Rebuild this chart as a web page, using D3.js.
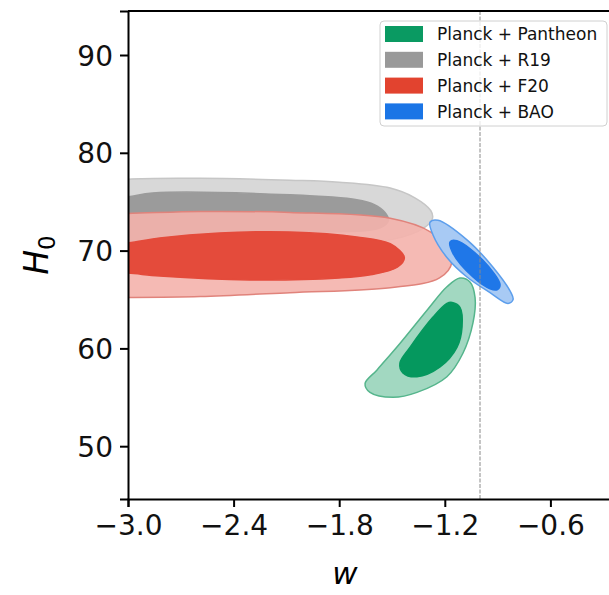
<!DOCTYPE html>
<html lang="en">

<head>
  <meta charset="UTF-8">
  <title>w - H0 contours</title>
  <script src="https://d3js.org/d3.v7.min.js"></script>
  <style>
    body { margin: 0; background: #fff; }
    text { font-family: "DejaVu Sans", sans-serif; }
  </style>
</head>

<body>
  <div id="container"></div>

  <script>
    // axis ticks
    var wTicks = [-3.0, -2.4, -1.8, -1.2, -0.6];
    var hTicks = [50, 60, 70, 80, 90];
    var legendLabels = ["Planck + Pantheon", "Planck + R19", "Planck + F20", "Planck + BAO"];

    // contour boundaries, [w, H0]
    var r19Outer = [[-3.16, 76.9], [-3.0, 77.3], [-2.59, 77.4], [-2.08, 77.2], [-1.80, 77.0], [-1.51, 76.4],
      [-1.37, 75.4], [-1.28, 74.1], [-1.27, 73.3], [-1.32, 72.3], [-1.51, 71.1], [-1.89, 70.7], [-2.59, 70.5], [-3.16, 70.5]];
    var r19Inner = [[-3.16, 75.3], [-3.0, 75.5], [-2.86, 75.9], [-2.08, 75.7], [-1.70, 75.2], [-1.60, 74.7],
      [-1.54, 73.9], [-1.52, 73.1], [-1.57, 72.3], [-2.02, 71.9], [-3.16, 71.9]];
    var f20Outer = [[-3.16, 73.8], [-3.0, 73.8], [-2.59, 74.0], [-2.08, 73.9], [-1.51, 73.3], [-1.28, 71.9],
      [-1.19, 70.3], [-1.16, 68.8], [-1.23, 67.2], [-1.51, 66.2], [-2.08, 65.7], [-2.59, 65.3], [-3.0, 65.2], [-3.16, 65.2]];
    var f20Inner = [[-3.16, 70.7], [-3.0, 70.8], [-2.82, 71.3], [-2.48, 71.8], [-2.08, 71.9], [-1.70, 71.4],
      [-1.51, 70.7], [-1.43, 69.3], [-1.47, 68.3], [-1.63, 67.5], [-1.80, 67.2], [-2.31, 67.0], [-2.82, 67.4],
      [-3.0, 67.7], [-3.16, 67.8]];
    var baoOuter = [[-1.284, 72.9], [-1.239, 73.1], [-1.074, 71.1], [-0.926, 68.3], [-0.824, 65.7], [-0.812, 65.0],
      [-0.841, 64.6], [-0.943, 65.7], [-1.074, 67.3], [-1.188, 69.3], [-1.267, 71.6]];
    var baoInner = [[-1.170, 70.9], [-1.131, 71.0], [-0.983, 69.0], [-0.886, 66.5], [-0.903, 66.0], [-0.943, 66.1],
      [-1.040, 67.3], [-1.153, 69.7]];
    var panOuter = [[-1.114, 67.2], [-1.057, 66.8], [-1.028, 65.2], [-1.040, 62.6], [-1.097, 59.5], [-1.188, 57.1],
      [-1.358, 55.5], [-1.494, 55.0], [-1.625, 55.5], [-1.653, 56.4], [-1.585, 57.8], [-1.455, 60.5], [-1.301, 63.9],
      [-1.188, 66.3]];
    var panInner = [[-1.159, 64.7], [-1.114, 64.2], [-1.102, 62.2], [-1.131, 60.1], [-1.227, 58.1], [-1.358, 57.1],
      [-1.438, 57.5], [-1.455, 58.5], [-1.398, 60.1], [-1.267, 63.2], [-1.188, 64.6]];

    var width = 609,
      height = 595,
      margin = { "left": 128, "top": 11, "right": -3, "bottom": 96 },
      plot_w = width - margin.left - margin.right,
      plot_h = height - margin.top - margin.bottom;

    var svg = d3.select("#container")
      .append("svg")
      .attr("width", width)
      .attr("height", height)

    var x = d3.scaleLinear().domain([-3.0, -0.25]).range([0, plot_w]);
    var y = d3.scaleLinear().domain([44.6, 94.5]).range([plot_h, 0]);

    var g = svg.append("g")
      .attr("transform", "translate(" + margin.left + "," + margin.top + ")")

    svg.append("clipPath").attr("id", "clip")
      .append("rect").attr("width", plot_w).attr("height", plot_h)

    var area = g.append("g").attr("clip-path", "url(#clip)")

    var line = d3.line()
      .x(function (d) { return x(d[0]); })
      .y(function (d) { return y(d[1]); })
      .curve(d3.curveCatmullRomClosed.alpha(0.5))

    // drawing order: R19, F20, BAO, Pantheon
    var layers = [
      { pts: r19Outer, fill: "#d8d8d8", stroke: "#c6c6c6", op: 1 },
      { pts: r19Inner, fill: "#9b9b9b", stroke: "#9b9b9b", op: 1 },
      { pts: f20Outer, fill: "#f4b2ac", stroke: "#e0837b", op: 0.9 },
      { pts: f20Inner, fill: "#e44b3b", stroke: "#e44b3b", op: 1 },
      { pts: baoOuter, fill: "#a8caf4", stroke: "#5c9eec", op: 1 },
      { pts: baoInner, fill: "#1f77e8", stroke: "#1f77e8", op: 1 },
      { pts: panOuter, fill: "#a2d8c1", stroke: "#55b58c", op: 1 },
      { pts: panInner, fill: "#05985e", stroke: "#05985e", op: 1 }
    ];

    area.selectAll("path.contour")
      .data(layers)
      .enter()
      .append("path")
      .attr("class", "contour")
      .attr("d", function (d) { return line(d.pts); })
      .attr("fill", function (d) { return d.fill; })
      .attr("fill-opacity", function (d) { return d.op; })
      .attr("stroke", function (d) { return d.stroke; })
      .attr("stroke-width", 1.5)

    // w = -1 reference line
    g.append("line")
      .attr("x1", x(-1)).attr("x2", x(-1))
      .attr("y1", 0).attr("y2", plot_h)
      .attr("stroke", "#8a8a8a")
      .attr("stroke-width", 1)
      .attr("stroke-dasharray", "4,1.5")

    // axes
    var xAxis = g.append("g")
      .attr("transform", "translate(0," + plot_h + ")")
      .call(d3.axisBottom(x).tickValues(wTicks).tickFormat(d3.format(".1f")).tickSize(8).tickPadding(8))
    var yAxis = g.append("g")
      .call(d3.axisLeft(y).tickValues(hTicks).tickSize(8).tickPadding(7))

    ;[xAxis, yAxis].forEach(function (a) {
      a.selectAll("path").attr("stroke", "#000").attr("stroke-width", 2)
      a.selectAll("line").attr("stroke", "#000").attr("stroke-width", 2)
      a.selectAll("text").attr("font-size", 28).attr("fill", "#111")
        .style("font-family", "DejaVu Sans")
    })
    yAxis.selectAll("text").attr("dy", "0.36em")

    // top spine
    g.append("line")
      .attr("x1", 0).attr("x2", plot_w)
      .attr("y1", 0).attr("y2", 0)
      .attr("stroke", "#000").attr("stroke-width", 2)

    // axis labels
    svg.append("text")
      .attr("x", 345).attr("y", 584)
      .attr("text-anchor", "middle")
      .attr("font-size", 31)
      .attr("font-style", "italic")
      .text("w")

    var hl = svg.append("text")
      .attr("transform", "translate(48," + (margin.top + plot_h / 2) + ") rotate(-90)")
      .attr("text-anchor", "middle")
      .attr("font-size", 33)
      .attr("font-style", "italic")
    hl.append("tspan").text("H")
    hl.append("tspan").attr("font-size", 23).attr("font-style", "normal").attr("dy", 7).text("0")

    // legend
    var legendColors = ["#0a9a62", "#999999", "#e2432f", "#1a75e6"];
    var leg = svg.append("g").attr("transform", "translate(380,21)")
    leg.append("rect")
      .attr("width", 227).attr("height", 105)
      .attr("rx", 4)
      .attr("fill", "#fff").attr("fill-opacity", 0.8)
      .attr("stroke", "#d0d0d0").attr("stroke-width", 1)

    var rows = leg.selectAll("g.row")
      .data(legendLabels)
      .enter()
      .append("g")
      .attr("class", "row")
      .attr("transform", function (d, i) { return "translate(0," + (13 + i * 25.8) + ")"; })
    rows.append("rect")
      .attr("x", 5).attr("y", -8)
      .attr("width", 38).attr("height", 16)
      .attr("fill", function (d, i) { return legendColors[i]; })
    rows.append("text")
      .attr("x", 57).attr("dy", "0.36em")
      .attr("font-size", 17)
      .attr("fill", "#111")
      .text(function (d) { return d; })
  </script>
</body>

</html>
